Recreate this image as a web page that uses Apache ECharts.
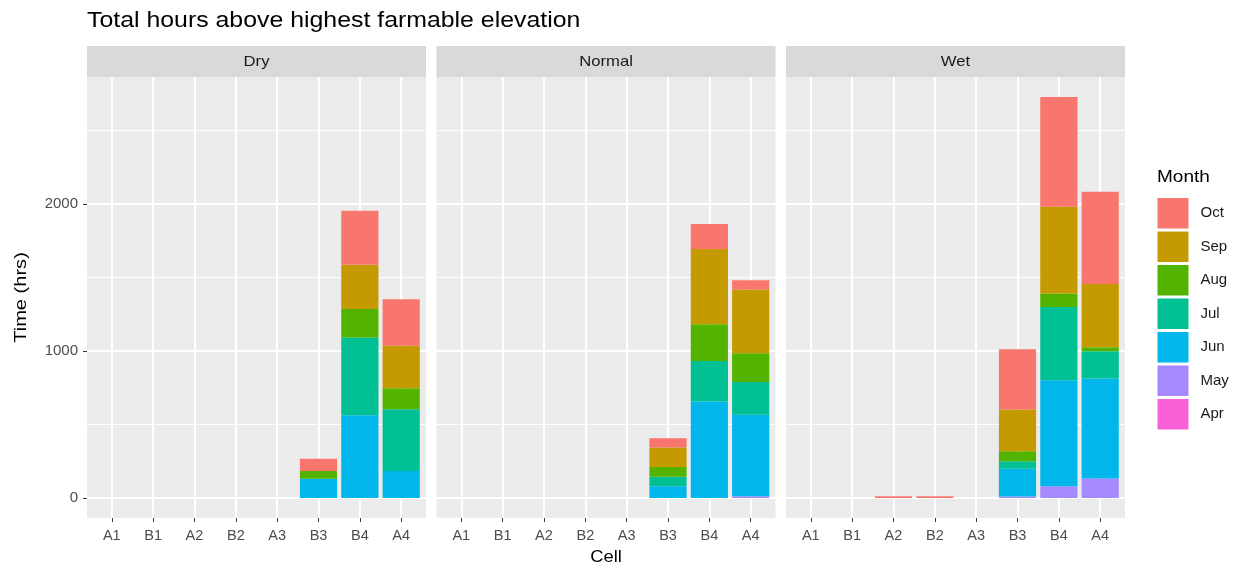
<!DOCTYPE html>
<html>
<head>
<meta charset="utf-8">
<script src="https://cdn.jsdelivr.net/npm/echarts@6.0.0/dist/echarts.min.js"></script>
<style>
  html, body { margin: 0; padding: 0; background: #fff; }
  #chart { width: 1241px; height: 570px; }
</style>
</head>
<body>
<div id="chart"></div>
<script>
// categories / facets / months (stack order bottom -> top)
const cells = ['A1', 'B1', 'A2', 'B2', 'A3', 'B3', 'B4', 'A4'];
const facets = ['Dry', 'Normal', 'Wet'];
const months = ['Apr', 'May', 'Jun', 'Jul', 'Aug', 'Sep', 'Oct'];
const xTicks = [1, 2, 3, 4, 5, 6, 7, 8];
const yTicks = [0, 1000, 2000];
const yMinorTicks = [500, 1500, 2500];

// hours per month, one value per cell (order as above)
const dryHours = {
  Apr: [0, 0, 0, 0, 0, 0, 0, 0],
  May: [0, 0, 0, 0, 0, 0, 0, 0],
  Jun: [0, 0, 0, 0, 0, 131, 563, 184],
  Jul: [0, 0, 0, 0, 0, 0, 528, 420],
  Aug: [0, 0, 0, 0, 0, 53, 195, 143],
  Sep: [0, 0, 0, 0, 0, 0, 300, 289],
  Oct: [0, 0, 0, 0, 0, 82, 368, 316],
};
const normalHours = {
  Apr: [0, 0, 0, 0, 0, 0, 0, 0],
  May: [0, 0, 0, 0, 0, 0, 0, 12],
  Jun: [0, 0, 0, 0, 0, 79, 656, 554],
  Jul: [0, 0, 0, 0, 0, 66, 275, 222],
  Aug: [0, 0, 0, 0, 0, 66, 250, 196],
  Sep: [0, 0, 0, 0, 0, 132, 512, 434],
  Oct: [0, 0, 0, 0, 0, 63, 170, 63],
};
const wetHours = {
  Apr: [0, 0, 0, 0, 0, 0, 0, 0],
  May: [0, 0, 0, 0, 0, 10, 79, 132],
  Jun: [0, 0, 0, 0, 0, 188, 721, 681],
  Jul: [0, 0, 0, 0, 0, 52, 499, 185],
  Aug: [0, 0, 0, 0, 0, 68, 92, 27],
  Sep: [0, 0, 0, 0, 0, 284, 590, 431],
  Oct: [0, 0, 12, 12, 0, 409, 746, 627],
};
const facetData = [dryHours, normalHours, wetHours];

// ggplot hue palette (Oct is first level)
const colors = {
  Oct: '#F8766D',
  Sep: '#C49A00',
  Aug: '#53B400',
  Jul: '#00C094',
  Jun: '#00B6EB',
  May: '#A58AFF',
  Apr: '#FB61D7',
};

const FONT = '"Liberation Sans", Arial, sans-serif';
const panelLeft = [87, 436.5, 786];
const panelWidth = 339;
const panelTop = 77;
const panelHeight = 441;
const stripHeight = 31;

// y range like ggplot: 5% expansion of [0, highest stack]
let maxTotal = 0;
facetData.forEach((d) => {
  cells.forEach((c, i) => {
    let s = 0;
    months.forEach((m) => (s += d[m][i]));
    maxTotal = Math.max(maxTotal, s);
  });
});
const yMin = -0.05 * maxTotal;
const yMax = 1.05 * maxTotal;

// text element, stretched a bit wider like the original render
function label(text, x, y, size, stretch, opts) {
  opts = opts || {};
  return {
    type: 'text',
    x: x,
    y: y,
    rotation: opts.rotation || 0,
    scaleX: stretch,
    style: {
      text: text,
      font: size + 'px ' + FONT,
      fill: opts.fill || '#000000',
      textAlign: opts.align || 'center',
      textVerticalAlign: 'middle',
    },
  };
}

let grid = [];
let xAxis = [];
let yAxis = [];
let series = [];
let graphic = [];

facets.forEach((name, f) => {
  grid.push({
    left: panelLeft[f],
    top: panelTop,
    width: panelWidth,
    height: panelHeight,
    show: true,
    backgroundColor: '#EBEBEB',
    borderWidth: 0,
  });
  xAxis.push({
    gridIndex: f,
    type: 'value',
    min: 0.4,
    max: 8.6,
    axisLine: { show: false, onZero: false },
    axisTick: {
      show: true,
      length: 4,
      customValues: xTicks,
      lineStyle: { color: '#333333', width: 1 },
    },
    axisLabel: {
      customValues: xTicks,
      formatter: (v) => cells[Math.round(v) - 1],
      color: '#4D4D4D',
      fontSize: 14.5,
      fontFamily: FONT,
      margin: 10.5,
    },
    splitLine: { show: true, lineStyle: { color: '#FFFFFF', width: 2 } },
  });
  // major y axis
  yAxis.push({
    gridIndex: f,
    type: 'value',
    position: 'left',
    min: yMin,
    max: yMax,
    axisLine: { show: false, onZero: false },
    axisTick: {
      show: f === 0,
      length: 4,
      customValues: yTicks,
      lineStyle: { color: '#333333', width: 1 },
    },
    axisLabel: {
      show: f === 0,
      customValues: yTicks,
      formatter: (v) => String(Math.round(v)),
      color: '#4D4D4D',
      fontSize: 15,
      fontFamily: FONT,
      margin: 9,
    },
    splitLine: { show: true, lineStyle: { color: '#FFFFFF', width: 2 } },
  });
  // minor grid lines
  yAxis.push({
    gridIndex: f,
    type: 'value',
    position: 'left',
    min: yMin,
    max: yMax,
    axisLine: { show: false, onZero: false },
    axisTick: { show: false, customValues: yMinorTicks },
    axisLabel: { show: false, customValues: yMinorTicks },
    splitLine: { show: true, lineStyle: { color: '#FFFFFF', width: 1 } },
  });

  months.forEach((m) => {
    series.push({
      type: 'bar',
      name: m,
      xAxisIndex: f,
      yAxisIndex: f * 2,
      stack: name,
      barWidth: 0.9 * (panelWidth / 8.2),
      // value first so the stack runs on the y dimension
      data: facetData[f][m].map((v, i) => [v, i + 1]),
      encode: { x: 1, y: 0 },
      itemStyle: { color: colors[m] },
      emphasis: { disabled: true },
    });
  });

  // facet strip
  graphic.push({
    type: 'rect',
    shape: { x: panelLeft[f], y: panelTop - stripHeight, width: panelWidth, height: stripHeight },
    style: { fill: '#D9D9D9' },
  });
  graphic.push(
    label(name, panelLeft[f] + panelWidth / 2, panelTop - stripHeight / 2, 14.5, 1.15, { fill: '#1A1A1A' })
  );
});

graphic.push(label('Total hours above highest farmable elevation', 87, 20.5, 22, 1.13, { align: 'left' }));
graphic.push(label('Cell', panelLeft[1] + panelWidth / 2, 557.5, 17, 1.08));
graphic.push(label('Time (hrs)', 21.5, panelTop + panelHeight / 2, 17, 1.18, { rotation: Math.PI / 2 }));
graphic.push(label('Month', 1157, 177, 17, 1.12, { align: 'left' }));

let option = {
  animation: false,
  backgroundColor: '#FFFFFF',
  legend: {
    orient: 'vertical',
    left: 1157.5,
    top: 198,
    padding: 0,
    icon: 'rect',
    itemWidth: 31,
    itemHeight: 30.5,
    itemGap: 3,
    selectedMode: false,
    data: months.slice().reverse(),
    textStyle: {
      fontFamily: FONT,
      fontSize: 15,
      color: '#1A1A1A',
      padding: [0, 0, 0, 7],
    },
  },
  grid,
  xAxis,
  yAxis,
  series,
  graphic,
};

let myChart = echarts.init(document.getElementById('chart'));
myChart.setOption(option);
</script>
</body>
</html>
